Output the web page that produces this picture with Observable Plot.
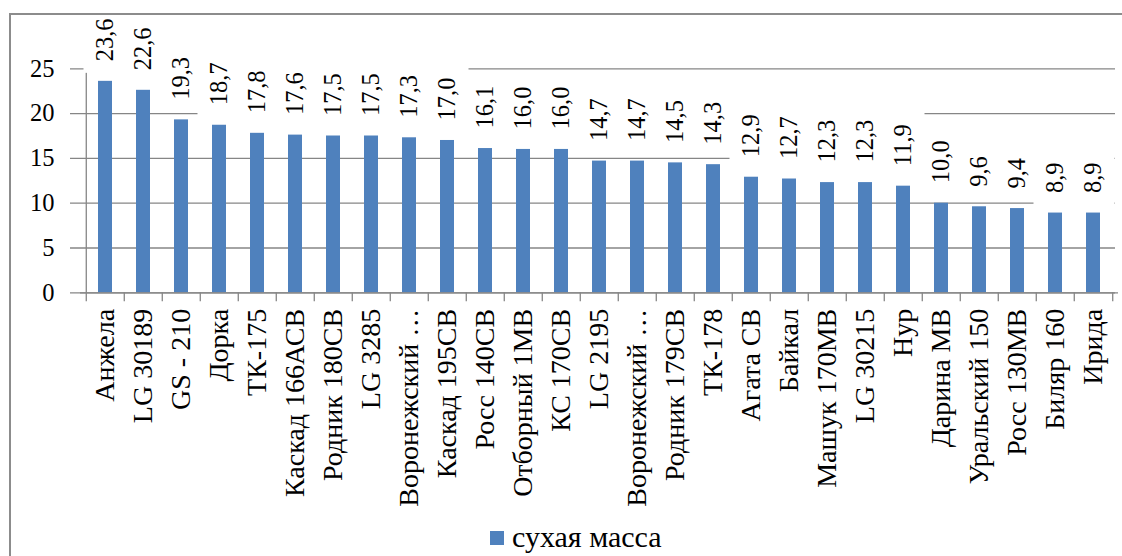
<!DOCTYPE html>
<html>
<head>
<meta charset="utf-8">
<script src="https://cdn.jsdelivr.net/npm/d3@7"></script>
<script src="https://cdn.jsdelivr.net/npm/@observablehq/plot@0.6"></script>
<style>
  html, body { margin: 0; padding: 0; background: #fff; }
  #wrap { position: relative; width: 1122px; height: 556px; overflow: hidden; font-family: 'Liberation Serif', 'DejaVu Serif', 'Times New Roman', serif; }
  #border { position: absolute; left: 9px; top: 13px; width: 1200px; height: 700px; border-left: 2px solid #8c8c8c; border-top: 2px solid #8c8c8c; pointer-events: none; z-index: 5; }
  #legend { height: 41px; position: relative; }
  #legend .sw { position: absolute; left: 490px; top: 16px; width: 14px; height: 14px; background: #4f81bd; }
  #legend .lb { position: absolute; left: 512px; top: 4px; font-size: 30px; line-height: 36px; color: #000; }
  svg text { font-family: 'Liberation Serif', 'DejaVu Serif', 'Times New Roman', serif; }
</style>
</head>
<body>
<div id="wrap">
  <div id="chart"></div>
  <div id="legend"><span class="sw"></span><span class="lb">сухая масса</span></div>
  <div id="border"></div>
</div>
<script>
const categories = ["Анжела", "LG 30189", "GS - 210", "Дорка", "ТК-175", "Каскад 166АСВ", "Родник 180СВ", "LG 3285", "Воронежский …", "Каскад 195СВ", "Росс 140СВ", "Отборный 1МВ", "КС 170СВ", "LG 2195", "Воронежский …", "Родник 179СВ", "ТК-178", "Агата СВ", "Байкал", "Машук 170МВ", "LG 30215", "Нур", "Дарина МВ", "Уральский 150", "Росс 130МВ", "Биляр 160", "Ирида"];
const values = [23.6, 22.6, 19.3, 18.7, 17.8, 17.6, 17.5, 17.5, 17.3, 17.0, 16.1, 16.0, 16.0, 14.7, 14.7, 14.5, 14.3, 12.9, 12.7, 12.3, 12.3, 11.9, 10.0, 9.6, 9.4, 8.9, 8.9];
const yTicks = [0, 5, 10, 15, 20, 25];
const seriesName = "сухая масса";

const data = categories.map((c, i) => ({i, name: c, v: values[i], label: values[i].toFixed(1).replace(".", ",")}));
const idx = data.map(d => d.i);

const W = 1122, H = 515, mL = 80, mR = 4, mT = 68.3, mB = 222.7;
const step = (W - mL - mR) / categories.length;
const font = "'Liberation Serif', 'DejaVu Serif', 'Times New Roman', serif";
const gray = "#868686";

const chart = Plot.plot({
  width: W,
  height: H,
  marginLeft: mL,
  marginRight: mR,
  marginTop: mT,
  marginBottom: mB,
  style: {fontFamily: font, background: "white", overflow: "visible"},
  x: {domain: idx, padding: 0, axis: null},
  y: {domain: [0, 25], axis: null},
  marks: [
    Plot.gridY(yTicks, {stroke: gray, strokeOpacity: 1, strokeWidth: 1.3, insetLeft: -10, insetRight: 3}),
    Plot.ruleX([0], {x: d => d, dx: -step / 2, y1: 0, y2: 25, stroke: gray, strokeWidth: 1.3}),
    Plot.rect(data, {x: "i", y1: "v", y2: "v", fill: "white", insetTop: -76, insetBottom: 8, insetLeft: -2.5, insetRight: -2.5}),
    Plot.barY(data, {x: "i", y: "v", fill: "#4f81bd", insetLeft: 12, insetRight: 12}),
    Plot.text(data, {x: "i", y: "v", text: "label", rotate: -90, textAnchor: "start", dy: -20, fontSize: 24.5, fontFamily: font, fill: "black"}),
    Plot.ruleY([0], {stroke: gray, strokeWidth: 1.3}),
    Plot.ruleX(idx, {x: d => d, dx: -step / 2, y1: 0, y2: 0, insetBottom: -9, stroke: gray, strokeWidth: 1.3}),
    Plot.ruleX([idx[idx.length - 1]], {x: d => d, dx: step / 2, y1: 0, y2: 0, insetBottom: -9, stroke: gray, strokeWidth: 1.3}),
    Plot.axisY(yTicks, {tickSize: 0, tickPadding: 26, fontSize: 24.5, fontFamily: font, fill: "black", label: null}),
    Plot.axisX({tickSize: 0, tickPadding: 16, tickRotate: -90, fontSize: 28, fontFamily: font, fill: "black", label: null, tickFormat: i => categories[i]})
  ]
});
document.getElementById("chart").appendChild(chart);
</script>
</body>
</html>
